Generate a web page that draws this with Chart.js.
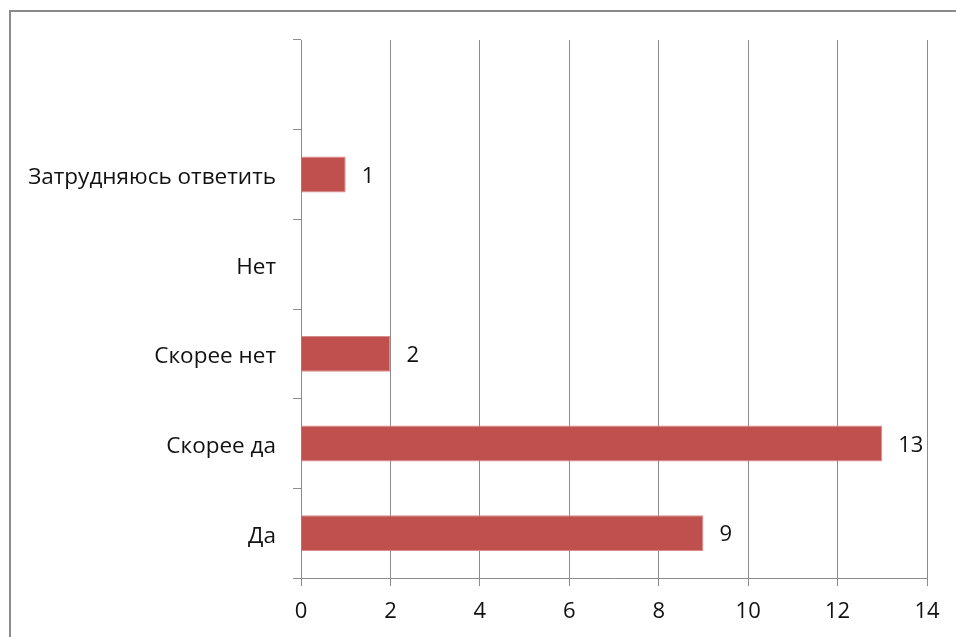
<!DOCTYPE html>
<html>
<head>
<meta charset="utf-8">
<script src="https://cdn.jsdelivr.net/npm/chart.js@4"></script>
<style>
  html, body { margin: 0; padding: 0; background: #fff; }
  #wrap { width: 956px; height: 637px; position: relative; }
</style>
</head>
<body>
<div id="wrap"><canvas id="chart"></canvas></div>
<script>
// answers, top to bottom (first slot is an empty row)
var answers = ['', 'Затрудняюсь ответить', 'Нет', 'Скорее нет', 'Скорее да', 'Да'];
var counts = [null, 1, null, 2, 13, 9];
var x_ticks = [0, 2, 4, 6, 8, 10, 12, 14];

var font_family = '"Open Sans", "Noto Sans", sans-serif';
var text_color = '#111111';
var grid_color = '#8c8c8c';
var bar_color = '#C0504D';

// grey frame around the whole chart
var framePlugin = {
    id: 'frame',
    beforeDraw: function (chart) {
        var c = chart.ctx;
        c.save();
        c.strokeStyle = '#8a8a8a';
        c.lineWidth = 2;
        c.beginPath();
        c.moveTo(10, 700);
        c.lineTo(10, 11);
        c.lineTo(1000, 11);
        c.stroke();
        c.restore();
    }
};

// value next to the end of each bar
var valuePlugin = {
    id: 'values',
    afterDatasetsDraw: function (chart) {
        var c = chart.ctx;
        var meta = chart.getDatasetMeta(0);
        c.save();
        c.font = '22px ' + font_family;
        c.fillStyle = text_color;
        c.textAlign = 'left';
        c.textBaseline = 'middle';
        meta.data.forEach(function (bar, i) {
            var v = counts[i];
            if (v === null || v === undefined) return;
            c.fillText(String(v), bar.x + 16, bar.y + 2);
        });
        c.restore();
    }
};

var ctx = document.getElementById('chart');

var cfg = {
    type: 'bar',
    data: {
        labels: answers,
        datasets: [{
            data: counts,
            backgroundColor: bar_color,
            borderColor: '#D98C8A',
            borderWidth: 1,
            categoryPercentage: 0.8,
            barPercentage: 0.5
        }]
    },
    options: {
        indexAxis: 'y',
        responsive: true,
        maintainAspectRatio: false,
        animation: false,
        layout: {
            padding: { top: 40, right: 29, left: 0, bottom: 0 }
        },
        scales: {
            x: {
                type: 'linear',
                min: 0,
                max: 14,
                afterBuildTicks: function (scale) {
                    scale.ticks = x_ticks.map(function (v) { return { value: v }; });
                },
                afterFit: function (scale) { scale.height = 59; },
                ticks: {
                    color: text_color,
                    font: { family: font_family, size: 22 },
                    padding: 13
                },
                grid: {
                    color: grid_color,
                    lineWidth: 1,
                    tickLength: 8,
                    drawOnChartArea: true
                },
                border: { display: true, color: grid_color, width: 1 }
            },
            y: {
                afterFit: function (scale) { scale.width = 301; },
                ticks: {
                    color: text_color,
                    font: { family: font_family, size: 22.5 },
                    padding: 17,
                    labelOffset: 3
                },
                grid: {
                    color: grid_color,
                    lineWidth: 1,
                    tickLength: 8,
                    drawOnChartArea: false,
                    offset: true
                },
                border: { display: true, color: grid_color, width: 1 }
            }
        },
        plugins: {
            legend: { display: false },
            tooltip: { enabled: false }
        }
    },
    plugins: [framePlugin, valuePlugin]
};

const chart = new Chart(ctx, cfg);
</script>
</body>
</html>
